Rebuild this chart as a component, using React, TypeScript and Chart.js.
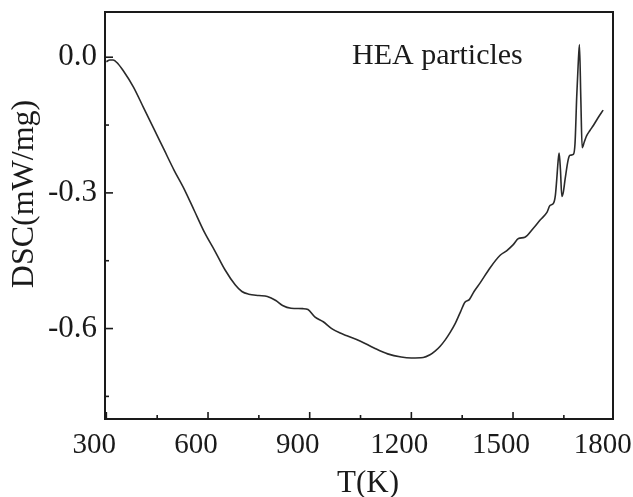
import { useEffect, useRef } from "react";
import { Chart, registerables } from "chart.js";

Chart.register(...registerables);

// ---- data ----
const temperatureK = [
  300, 310, 320, 335, 350, 380, 410, 440, 470, 500, 530, 560, 590, 620, 650, 680,
  700, 720, 750, 775, 800, 820, 845, 880, 895, 915, 940, 965, 990, 1010, 1050,
  1090, 1130, 1170, 1200, 1235, 1255, 1270, 1285, 1300, 1315, 1330, 1345, 1358,
  1371, 1385, 1403, 1432, 1462, 1481, 1500, 1516, 1535, 1560, 1580, 1600, 1609,
  1620, 1625, 1629, 1633, 1636, 1640, 1644, 1648, 1654, 1663, 1668, 1678, 1683,
  1688, 1692, 1696, 1700, 1704, 1710, 1717, 1727, 1737, 1750, 1766,
];
const dscValues = [
  -0.010, -0.006, -0.006, -0.015, -0.030, -0.066, -0.112, -0.158, -0.204, -0.250,
  -0.292, -0.340, -0.388, -0.428, -0.470, -0.503, -0.518, -0.524, -0.527, -0.529,
  -0.538, -0.549, -0.555, -0.556, -0.558, -0.574, -0.585, -0.600, -0.610, -0.616,
  -0.628, -0.643, -0.656, -0.663, -0.665, -0.664, -0.658, -0.650, -0.639, -0.625,
  -0.608, -0.588, -0.563, -0.542, -0.536, -0.518, -0.499, -0.466, -0.438, -0.428,
  -0.415, -0.401, -0.398, -0.378, -0.360, -0.343, -0.328, -0.322, -0.305, -0.270,
  -0.230, -0.212, -0.250, -0.308, -0.300, -0.268, -0.226, -0.217, -0.215, -0.190,
  -0.086, -0.020, 0.028, -0.090, -0.200, -0.188, -0.174, -0.162, -0.151, -0.135,
  -0.117,
];

const xMajorTicks = [300, 600, 900, 1200, 1500, 1800];
const xMinorTicks = [450, 750, 1050, 1350, 1650];
const xTickLabels = ["300", "600", "900", "1200", "1500", "1800"];
const yMajorTicks = [0.0, -0.3, -0.6];
const yMinorTicks = [-0.15, -0.45, -0.75];
const yTickLabels = ["0.0", "-0.3", "-0.6"];

const xTitle = "T(K)";
const yTitle = "DSC(mW/mg)";
const annotationText = "HEA particles";

const FONT = '"Liberation Serif", "Times New Roman", "DejaVu Serif", serif';
const INK = "#1a1a1a";

const framePlugin = {
  id: "frameAndTexts",
  afterDraw(chart: any) {
    const { ctx, chartArea } = chart;
    const { left, top, right, bottom } = chartArea;
    const xs = chart.scales.x;
    const ys = chart.scales.y;
    ctx.save();
    // box
    ctx.strokeStyle = INK;
    ctx.lineWidth = 2;
    ctx.strokeRect(left, top, right - left, bottom - top);
    // inward ticks
    ctx.lineWidth = 1.6;
    const drawX = (v: number, len: number) => {
      const px = xs.getPixelForValue(v);
      if (px < left - 0.5 || px > right + 0.5) return;
      ctx.beginPath();
      ctx.moveTo(px, bottom);
      ctx.lineTo(px, bottom - len);
      ctx.stroke();
    };
    const drawY = (v: number, len: number) => {
      const py = ys.getPixelForValue(v);
      ctx.beginPath();
      ctx.moveTo(left, py);
      ctx.lineTo(left + len, py);
      ctx.stroke();
    };
    xMajorTicks.forEach((v) => drawX(v, 7));
    xMinorTicks.forEach((v) => drawX(v, 4));
    yMajorTicks.forEach((v) => drawY(v, 8));
    yMinorTicks.forEach((v) => drawY(v, 4));

    ctx.fillStyle = INK;
    // x title
    ctx.font = `31px ${FONT}`;
    ctx.textAlign = "center";
    ctx.textBaseline = "alphabetic";
    ctx.fillText(xTitle, left + 263, bottom + 73);
    // y title
    ctx.save();
    ctx.translate(left - 72, top + 182);
    ctx.rotate(-Math.PI / 2);
    ctx.font = `32px ${FONT}`;
    ctx.textAlign = "center";
    ctx.fillText(yTitle, 0, 0);
    ctx.restore();
    // annotation
    ctx.font = `30px ${FONT}`;
    ctx.textAlign = "left";
    ctx.fillText(annotationText, left + 247, top + 52);
    ctx.restore();
  },
};

export default function App() {
  const canvasRef = useRef<HTMLCanvasElement | null>(null);

  useEffect(() => {
    if (!canvasRef.current) return;
    const chart = new Chart(canvasRef.current, {
      type: "line",
      data: {
        datasets: [
          {
            data: temperatureK.map((t, i) => ({ x: t, y: dscValues[i] })),
            borderColor: "#2a2a2a",
            borderWidth: 1.6,
            pointRadius: 0,
            fill: false,
            cubicInterpolationMode: "monotone",
          },
        ],
      },
      options: {
        animation: false,
        responsive: false,
        events: [],
        layout: { padding: { top: 12, right: 20, left: 0, bottom: 0 } },
        plugins: { legend: { display: false }, tooltip: { enabled: false } },
        scales: {
          x: {
            type: "linear",
            min: 296,
            max: 1795,
            afterBuildTicks: (s: any) => {
              s.ticks = xMajorTicks.map((v) => ({ value: v }));
            },
            afterFit: (s: any) => {
              s.height = 78;
              s.paddingLeft = 0;
              s.paddingRight = 0;
            },
            grid: { display: false, drawTicks: false },
            border: { display: false },
            ticks: {
              autoSkip: false,
              maxRotation: 0,
              labelOffset: -12,
              padding: 9,
              color: INK,
              font: { family: FONT, size: 29 },
              callback: (_v: any, i: number) => xTickLabels[i],
            },
          },
          y: {
            type: "linear",
            min: -0.8,
            max: 0.1,
            afterBuildTicks: (s: any) => {
              s.ticks = yMajorTicks.map((v) => ({ value: v }));
            },
            afterFit: (s: any) => {
              s.width = 105;
              s.paddingTop = 0;
              s.paddingBottom = 0;
            },
            grid: { display: false, drawTicks: false },
            border: { display: false },
            ticks: {
              padding: 8,
              color: INK,
              font: { family: FONT, size: 31 },
              callback: (_v: any, i: number) => yTickLabels[i],
            },
          },
        },
      },
      plugins: [framePlugin],
    } as any);
    return () => chart.destroy();
  }, []);

  return (
    <div style={{ position: "fixed", left: 0, top: 0, width: 633, height: 497, background: "#fff" }}>
      <canvas ref={canvasRef} width={633} height={497} style={{ width: 633, height: 497, display: "block" }} />
    </div>
  );
}
